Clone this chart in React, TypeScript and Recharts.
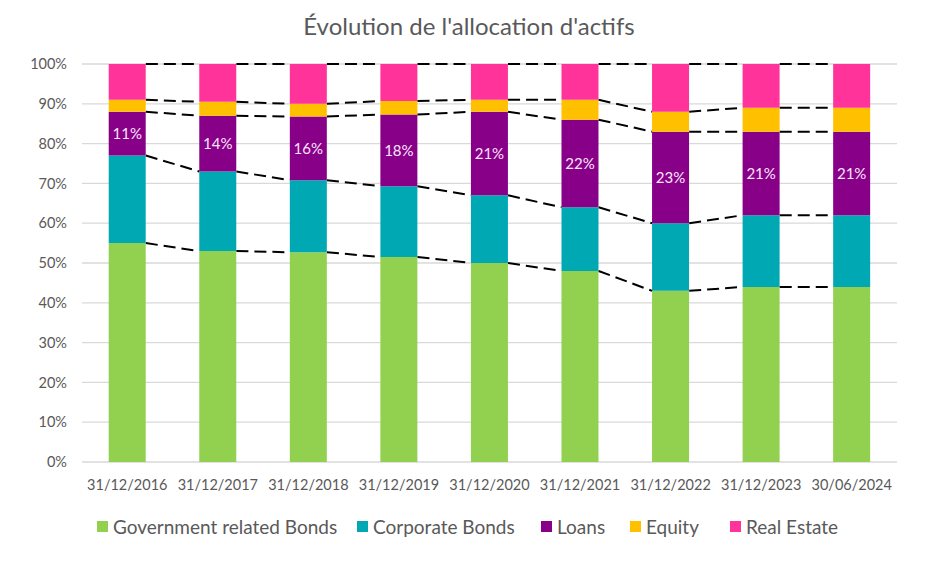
import React from 'react';
import {
  ComposedChart,
  Bar,
  XAxis,
  YAxis,
  CartesianGrid,
  ReferenceLine,
  LabelList,
} from 'recharts';

const categories = [
  '31/12/2016',
  '31/12/2017',
  '31/12/2018',
  '31/12/2019',
  '31/12/2020',
  '31/12/2021',
  '31/12/2022',
  '31/12/2023',
  '30/06/2024',
];
const govBonds = [55, 53, 52.7, 51.5, 50, 48, 43, 44, 44];
const corpBonds = [22, 20, 18.1, 17.8, 17, 16, 17, 18, 18];
const loans = [11, 14, 16, 18, 21, 22, 23, 21, 21];
const equity = [3, 3.5, 3.2, 3.4, 3, 5, 5, 6, 6];
const realEstate = [9, 9.5, 10, 9.3, 9, 9, 12, 11, 11];

const seriesKeys = ['gov', 'corp', 'loans', 'equity', 'realEstate'];
const seriesNames = ['Government related Bonds', 'Corporate Bonds', 'Loans', 'Equity', 'Real Estate'];
const seriesColors = ['#92D050', '#00A8B4', '#880088', '#FFC000', '#FF3399'];
const yTicks = [0, 10, 20, 30, 40, 50, 60, 70, 80, 90, 100];

const FONT = 'Lato, "Open Sans", sans-serif';
const TEXT = '#595959';
const GRID = '#d9d9d9';
// share of each category band left empty on each side of a bar
const GAP = 0.295;
// legend item slots, px
const legendSlots = [260, 184, 89, 100, 120];

const stacks = [govBonds, corpBonds, loans, equity, realEstate];

const data = categories.map((date, i) => ({
  date,
  pos: i + 0.5,
  gov: govBonds[i],
  corp: corpBonds[i],
  loans: loans[i],
  equity: equity[i],
  realEstate: realEstate[i],
}));

// top of each stacked layer, per category
const levels = stacks.map((_, s) =>
  categories.map((_, i) => stacks.slice(0, s + 1).reduce((sum, arr) => sum + arr[i], 0))
);

// dashed connectors from the right edge of one bar to the left edge of the next
const connectors = levels.flatMap((lv, s) =>
  categories.slice(0, -1).map((_, i) => ({
    key: `c-${s}-${i}`,
    segment: [
      { x: i + 1 - GAP, y: lv[i] },
      { x: i + 1 + GAP, y: lv[i + 1] },
    ],
  }))
);

const bandTicks = categories.map((_, i) => i).concat(categories.length);

export default function App() {
  return (
    <div style={{ position: 'relative', width: 912, height: 551, fontFamily: FONT }}>
      <div
        style={{
          position: 'absolute',
          top: 3,
          left: 5,
          width: 912,
          textAlign: 'center',
          fontSize: 24,
          color: TEXT,
          zIndex: 1,
        }}
      >
        Évolution de l'allocation d'actifs
      </div>
      <ComposedChart
        width={912}
        height={551}
        data={data}
        margin={{ top: 56, right: 23, left: 0, bottom: 57 }}
        barCategoryGap={`${GAP * 100}%`}
      >
        <CartesianGrid vertical={false} stroke={GRID} strokeWidth={1.3} />
        <XAxis
          xAxisId="n"
          dataKey="pos"
          type="number"
          domain={[0, categories.length]}
          ticks={bandTicks}
          tick={false}
          tickSize={6}
          tickLine={{ stroke: '#c9c9c9' }}
          axisLine={{ stroke: '#d0d0d0', strokeWidth: 1.3 }}
          height={0}
          allowDataOverflow
        />
        <XAxis
          dataKey="date"
          interval={0}
          tickLine={false}
          axisLine={false}
          tickMargin={12}
          height={40}
          tick={{ fill: TEXT, fontSize: 14.5, fontFamily: FONT }}
        />
        <YAxis
          domain={[0, 100]}
          ticks={yTicks}
          allowDataOverflow
          width={74}
          axisLine={false}
          tickLine={false}
          tickMargin={9}
          tickFormatter={(v) => `${v}%`}
          tick={{ fill: TEXT, fontSize: 14.5, fontFamily: FONT }}
        />
        {seriesKeys.map((k, s) => (
          <Bar
            key={k}
            dataKey={k}
            name={seriesNames[s]}
            stackId="a"
            fill={seriesColors[s]}
            isAnimationActive={false}
          >
            {k === 'loans' && (
              <LabelList
                dataKey="loans"
                position="center"
                formatter={(v) => `${v}%`}
                fill="#FBE6FB"
                fontSize={15}
                fontFamily={FONT}
              />
            )}
          </Bar>
        ))}
        {connectors.map((c) => (
          <ReferenceLine
            key={c.key}
            xAxisId="n"
            segment={c.segment}
            stroke="#000"
            strokeWidth={2}
            strokeDasharray="12 6"
            ifOverflow="visible"
          />
        ))}
      </ComposedChart>
      <div
        style={{
          position: 'absolute',
          top: 507,
          left: 89,
          display: 'flex',
          alignItems: 'center',
          fontSize: 19,
          color: TEXT,
        }}
      >
        {seriesNames.map((name, s) => (
          <div
            key={name}
            style={{ display: 'flex', alignItems: 'center', gap: 5, width: legendSlots[s], whiteSpace: 'nowrap' }}
          >
            <span style={{ width: 11, height: 11, background: seriesColors[s], display: 'inline-block' }} />
            <span>{name}</span>
          </div>
        ))}
      </div>
    </div>
  );
}
